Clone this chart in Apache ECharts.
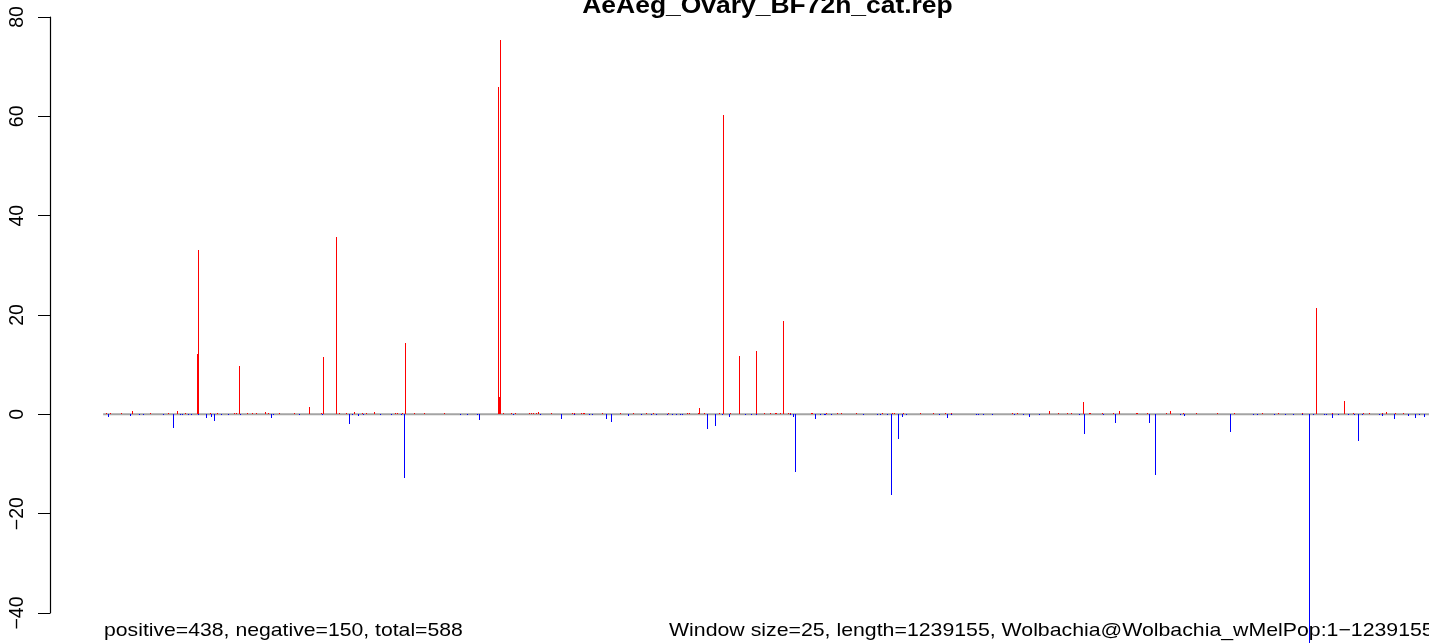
<!DOCTYPE html>
<html>
<head>
<meta charset="utf-8">
<script src="https://cdn.jsdelivr.net/npm/echarts@6/dist/echarts.min.js"></script>
<style>
  html, body { margin: 0; padding: 0; background: #fff; }
  #chart { width: 1429px; height: 643px; }
</style>
</head>
<body>
<div id="chart"></div>
<script>
// Wolbachia wMelPop genome, window size 25: read counts per window (plus / minus strand)
const genomeLength = 1239155;
const chartTitle = 'AeAeg_Ovary_BF72h_cat.rep';
const leftNote = 'positive=438, negative=150, total=588';
const rightNote = 'Window size=25, length=1239155, Wolbachia@Wolbachia_wMelPop:1\u22121239155';
const yTicks = [-40, -20, 0, 20, 40, 60, 80];

// plus-strand windows: start position (bp) and value
const plusPositions = [
  2800, 6500, 17100, 27300, 44100, 60900, 69300, 76700, 87600, 89200,
  100000, 106600, 122400, 124300, 127100, 134500, 139200, 142900, 151300, 154100,
  164400, 178700, 192400, 203500, 205400, 217500, 220300, 227200, 234300, 241800,
  245500, 253000, 272500, 274400, 279100, 281900, 290300, 299600, 318200, 368300,
  369500, 370800, 373200, 380700, 384400, 397500, 399700, 401200, 403700, 405900,
  418400, 437900, 439200, 446300, 447800, 448800, 465900, 482700, 494500, 506300,
  513100, 527700, 544800, 546700, 554800, 556000, 560700, 574600, 578400, 585500,
  593300, 609100, 616600, 622200, 626600, 628200, 631500, 634300, 639000, 641200,
  660400, 661700, 674800, 684700, 688400, 702800, 726600, 735900, 737800, 746200,
  762100, 774200, 785400, 791300, 847800, 852500, 882300, 890700, 899100, 903200,
  914400, 919600, 920600, 931700, 942000, 947600, 963800, 964800, 974100, 991400,
  995200, 1007300, 1019400, 1039000, 1054800, 1080900, 1095800, 1118200, 1131300, 1146200,
  1157400, 1165800, 1175100, 1180700, 1192800, 1196500, 1204900, 1212400
];
const plusValues = [
  0.2, 0.2, 0.2, 0.6, 0.2, 0.2, 0.6, 0.2, 12.1, 33.0,
  0.2, 0.3, 0.2, 0.2, 9.7, 0.3, 0.2, 0.2, 0.5, 0.2,
  0.2, 0.2, 1.4, 0.2, 11.6, 35.7, 0.2, 0.2, 0.4, 0.2,
  0.2, 0.4, 0.2, 0.2, 0.2, 14.3, 0.2, 0.2, 0.2, 66.0,
  3.5, 75.3, 0.2, 0.2, 0.2, 0.2, 0.2, 0.2, 0.2, 0.5,
  0.2, 0.2, 0.2, 0.2, 0.3, 0.2, 0.2, 0.2, 0.2, 0.2,
  0.2, 0.2, 0.2, 0.2, 0.2, 1.2, 0.3, 0.2, 60.3, 0.2,
  11.7, 12.7, 0.2, 0.2, 0.2, 0.3, 0.2, 18.7, 0.3, 0.2,
  0.3, 0.2, 0.2, 0.2, 0.2, 0.2, 0.2, 0.2, 0.2, 0.2,
  0.2, 0.2, 0.2, 0.3, 0.2, 0.2, 0.6, 0.2, 0.2, 0.2,
  2.5, 0.2, 0.2, 0.2, 0.2, 0.6, 0.2, 0.2, 0.2, 0.2,
  0.6, 0.2, 0.2, 0.2, 0.2, 0.2, 0.2, 0.2, 21.4, 0.2,
  2.6, 0.2, 0.2, 0.2, 0.2, 0.5, 0.2, 0.2
];

// minus-strand windows: start position (bp) and value
const minusPositions = [
  4900, 25500, 33800, 37600, 56200, 65500, 71800, 73700, 79300, 82300,
  88600, 96300, 101000, 103800, 110300, 116800, 128000, 156900, 158800, 183000,
  204500, 229700, 232400, 238000, 242700, 258600, 268800, 278500, 280900, 332900,
  339700, 349400, 350900, 382600, 407500, 427700, 439400, 453400, 456600, 469300,
  473900, 489800, 501900, 511200, 516300, 526200, 531200, 534900, 538900, 540100,
  563400, 570900, 577400, 584000, 598900, 604800, 609100, 641200, 643600, 645500,
  664100, 668800, 672500, 674100, 679100, 708900, 722000, 724800, 731300, 735000,
  741500, 745300, 749000, 779800, 787200, 791000, 814300, 816100, 820800, 829200,
  849700, 858100, 863700, 873000, 910300, 915000, 932700, 943900, 975600, 981200,
  1004500, 1008200, 1051100, 1072500, 1076300, 1092100, 1102400, 1109800, 1118200, 1124800,
  1128500, 1138700, 1140600, 1146200, 1151800, 1161100, 1166700, 1170400, 1174200, 1190000,
  1192800, 1204000, 1217100, 1223600, 1227300, 1232000
];
const minusValues = [
  -0.5, -0.4, -0.2, -0.2, -0.2, -2.7, -0.2, -0.2, -0.2, -0.2,
  -0.2, -0.7, -0.5, -1.3, -0.2, -0.2, -0.2, -0.7, -0.2, -0.2,
  -0.2, -1.9, -0.2, -0.4, -0.2, -0.2, -0.2, -0.2, -12.9, -0.2,
  -0.2, -0.2, -1.1, -0.2, -0.2, -0.9, -0.2, -0.2, -0.2, -0.9,
  -1.5, -0.3, -0.2, -0.2, -0.2, -0.2, -0.2, -0.2, -0.2, -0.2,
  -3.0, -2.4, -0.2, -0.5, -0.2, -0.2, -0.2, -0.2, -0.6, -11.6,
  -1.0, -0.2, -0.2, -0.2, -0.2, -0.2, -0.2, -0.2, -0.2, -16.3,
  -4.9, -0.5, -0.2, -0.2, -0.7, -0.2, -0.2, -0.2, -0.2, -0.2,
  -0.2, -0.2, -0.5, -0.2, -0.2, -3.9, -0.2, -1.7, -1.7, -12.3,
  -0.2, -0.3, -3.6, -0.2, -0.2, -0.2, -0.2, -0.2, -0.2, -46.5,
  -0.2, -0.2, -0.2, -0.7, -0.2, -0.2, -0.2, -5.4, -0.2, -0.2,
  -0.4, -0.9, -0.4, -0.7, -0.2, -0.5
];

const toPairs = (xs, ys) => xs.map((x, i) => [x, ys[i]]);

// one-pixel vertical bar from zero to the value, snapped to the pixel grid
function strandBar(color) {
  return function (params, api) {
    const top = api.coord([api.value(0), api.value(1)]);
    const base = api.coord([api.value(0), 0]);
    const px = Math.floor(top[0]);
    const y0 = Math.round(Math.min(top[1], base[1]));
    const y1 = Math.round(Math.max(top[1], base[1]));
    return {
      type: 'rect',
      shape: { x: px, y: y0, width: 1, height: Math.max(1, y1 - y0) },
      style: { fill: color }
    };
  };
}

const chart = echarts.init(document.getElementById('chart'), null, { renderer: 'canvas' });
const pad = genomeLength * 0.04;
const font = '"Liberation Sans", Arial, Helvetica, sans-serif';

chart.setOption({
  animation: false,
  backgroundColor: '#ffffff',
  grid: {
    left: 50, top: 17, width: 1435, height: 596,
    containLabel: false,
    outerBoundsMode: 'none'
  },
  xAxis: {
    type: 'value',
    min: -pad,
    max: genomeLength + pad,
    show: false
  },
  yAxis: {
    type: 'value',
    min: yTicks[0],
    max: yTicks[yTicks.length - 1],
    interval: 20,
    axisLine: { show: true, onZero: false, lineStyle: { color: '#000', width: 1.2 } },
    axisTick: { show: true, length: 12, lineStyle: { color: '#000', width: 1 } },
    splitLine: { show: false },
    axisLabel: {
      rotate: 90,
      margin: 22,
      color: '#000',
      fontSize: 19.5,
      fontFamily: font,
      formatter: v => (v < 0 ? '\u2212' + Math.abs(v) : String(v))
    }
  },
  series: [
    {
      type: 'line',
      data: [[0, 0], [genomeLength, 0]],
      symbol: 'none',
      lineStyle: { color: '#a4a4a4', width: 2 },
      z: 1,
      silent: true,
      clip: false
    },
    {
      type: 'custom',
      data: toPairs(plusPositions, plusValues),
      renderItem: strandBar('#ff0000'),
      clip: false,
      z: 3
    },
    {
      type: 'custom',
      data: toPairs(minusPositions, minusValues),
      renderItem: strandBar('#0000ff'),
      clip: false,
      z: 4
    }
  ],
  graphic: [
    {
      type: 'text',
      x: 767.5,
      y: 7,
      scaleX: 1.15,
      style: {
        text: chartTitle,
        font: 'bold 23px ' + font,
        fill: '#000',
        align: 'center',
        verticalAlign: 'middle'
      }
    },
    {
      type: 'text',
      x: 104,
      y: 631,
      scaleX: 1.14,
      style: {
        text: leftNote,
        font: '18.6px ' + font,
        fill: '#000',
        align: 'left',
        verticalAlign: 'middle'
      }
    },
    {
      type: 'text',
      x: 669,
      y: 631,
      scaleX: 1.145,
      style: {
        text: rightNote,
        font: '18.6px ' + font,
        fill: '#000',
        align: 'left',
        verticalAlign: 'middle'
      }
    }
  ]
});
</script>
</body>
</html>
